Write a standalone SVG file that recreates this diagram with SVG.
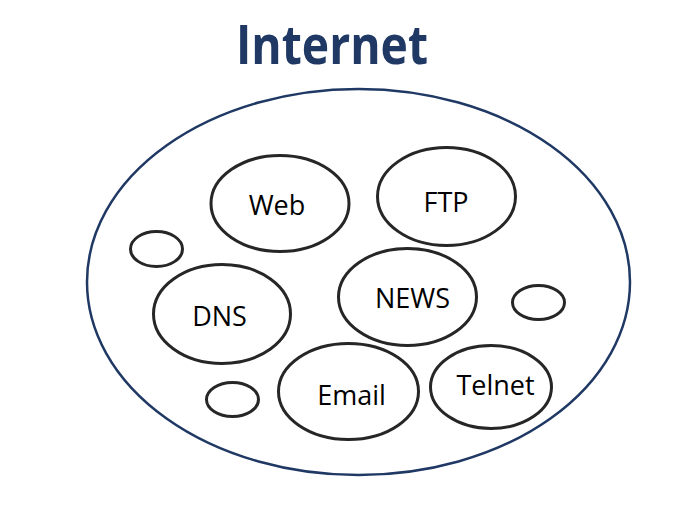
<svg xmlns="http://www.w3.org/2000/svg" width="689" height="507" viewBox="0 0 689 507">
<style>
.n{fill:#fff;stroke:#262626;stroke-width:3}
.t{font-family:"Open Sans","Liberation Sans",sans-serif;font-size:27px;fill:#000;text-anchor:middle}
</style>
<rect width="689" height="507" fill="#fff"/>
<text x="332" y="64" font-family="'Open Sans','Liberation Sans',sans-serif" font-weight="bold" font-size="53" fill="#1f3864" text-anchor="middle" textLength="192" lengthAdjust="spacingAndGlyphs">Internet</text>
<g id="internet"><ellipse cx="358.5" cy="282" rx="271.5" ry="193" fill="none" stroke="#1f3864" stroke-width="2.5"/></g>
<g id="connectors"></g>
<g id="web"><ellipse class="n" cx="280" cy="203.5" rx="69" ry="48"/><text class="t" x="277" y="215">Web</text></g>
<g id="ftp"><ellipse class="n" cx="446.5" cy="196.5" rx="69" ry="49"/><text class="t" x="446" y="212">FTP</text></g>
<g id="news"><ellipse class="n" cx="407.5" cy="297" rx="69" ry="48.5"/><text class="t" x="412.5" y="308">NEWS</text></g>
<g id="dns"><ellipse class="n" cx="222" cy="314" rx="68.5" ry="49.5"/><text class="t" x="219.5" y="326">DNS</text></g>
<g id="email"><ellipse class="n" cx="348.5" cy="391.5" rx="70" ry="48"/><text class="t" x="351.5" y="405">Email</text></g>
<g id="telnet"><ellipse class="n" cx="491" cy="387" rx="60.5" ry="41.5"/><text class="t" x="495.5" y="395">Telnet</text></g>
<g id="small1"><ellipse class="n" cx="156.5" cy="249" rx="26" ry="17.5"/></g>
<g id="small2"><ellipse class="n" cx="538.5" cy="302.5" rx="26" ry="17"/></g>
<g id="small3"><ellipse class="n" cx="232.5" cy="399.5" rx="26" ry="17"/></g>
</svg>
